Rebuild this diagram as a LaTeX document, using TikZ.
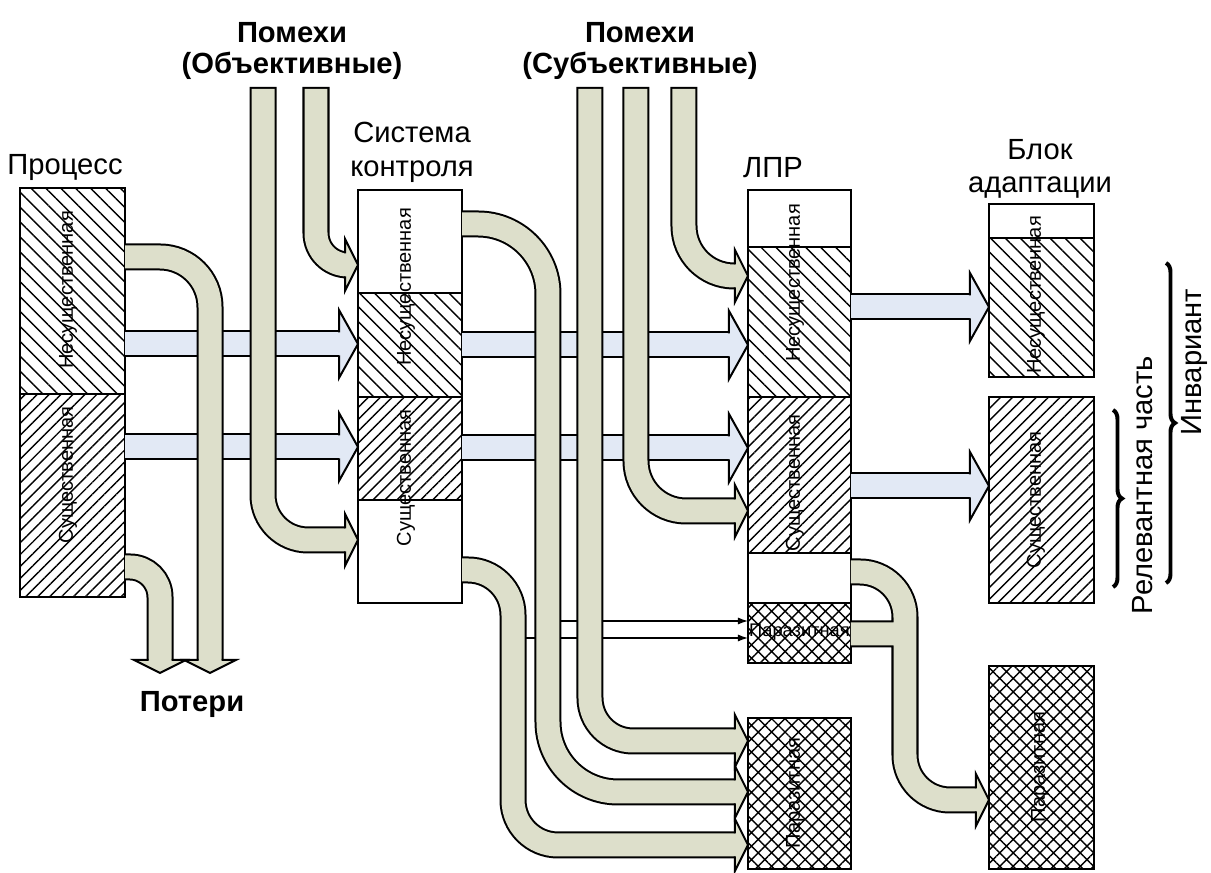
\documentclass[tikz,border=0pt]{standalone}
\usepackage{fontspec}
\setmainfont{Liberation Sans}
\usetikzlibrary{patterns.meta,decorations.pathreplacing,arrows.meta}

\definecolor{flowolive}{RGB}{221,223,203}
\definecolor{flowblue}{RGB}{226,233,245}

\begin{document}
\begin{tikzpicture}[
  sect/.style={draw, line width=0.02cm, inner sep=0pt, outer sep=0pt},
  whitesect/.style={sect, fill=white},
  nwsect/.style={sect, pattern={Lines[angle=-45,distance=3pt,line width=0.4pt]}},
  nesect/.style={sect, pattern={Lines[angle=45,distance=2.4pt,line width=0.4pt]}},
  xsect/.style={sect, pattern={Hatch[angle=45,distance=2.7pt,line width=0.4pt]}},
  vtext/.style={rotate=90, font=\fontsize{5.7}{7}\selectfont, inner sep=0pt},
  heading/.style={font=\fontsize{8.3}{9.6}\selectfont, align=center, inner sep=0pt},
  noise/.style={font=\bfseries\fontsize{8.3}{8.6}\selectfont, align=center, inner sep=0pt},
  oflow/.style={draw=flowolive, line width=0.23cm, rounded corners=0.45cm, shorten >=0.13cm,
    preaction={draw=black, line width=0.27cm, shorten <=0pt}},
  bflow/.style={draw=flowblue, line width=0.23cm, shorten >=0.19cm,
    preaction={draw=black, line width=0.27cm}},
  fromtop/.style={shorten <=0.02cm},
  signal/.style={line width=0.012cm, -{Latex[length=0.1cm,width=0.07cm]}},
  ohead/.pic={\filldraw[fill=flowolive, line width=0.02cm, line cap=rect]
    (-0.13,0.125) -- (-0.13,0.26) -- (0,0) -- (-0.13,-0.26) -- (-0.13,-0.125);},
  bhead/.pic={\filldraw[fill=flowblue, line width=0.02cm, line cap=rect]
    (-0.19,0.125) -- (-0.19,0.34) -- (0,0) -- (-0.19,-0.34) -- (-0.19,-0.125);}
]
\useasboundingbox (0,0) rectangle (12.11,-8.73);

% Процесс
\node[nwsect, minimum width=1.05cm, minimum height=2.06cm] (pN) at (0.725,-2.91) {};
\node[nesect, minimum width=1.05cm, minimum height=2.03cm] (pS) at (0.725,-4.955) {};
% Система контроля
\node[whitesect, minimum width=1.04cm, minimum height=1.03cm] (kT) at (4.10,-2.415) {};
\node[nwsect, minimum width=1.04cm, minimum height=1.04cm] (kN) at (4.10,-3.45) {};
\node[nesect, minimum width=1.04cm, minimum height=1.03cm] (kS) at (4.10,-4.485) {};
\node[whitesect, minimum width=1.04cm, minimum height=1.03cm] (kB) at (4.10,-5.515) {};
% ЛПР
\node[whitesect, minimum width=1.03cm, minimum height=0.57cm] (lT) at (7.995,-2.185) {};
\node[nwsect, minimum width=1.03cm, minimum height=1.50cm] (lN) at (7.995,-3.22) {};
\node[nesect, minimum width=1.03cm, minimum height=1.56cm] (lS) at (7.995,-4.75) {};
\node[whitesect, minimum width=1.03cm, minimum height=0.50cm] (lB) at (7.995,-5.78) {};
\node[xsect, minimum width=1.03cm, minimum height=0.60cm] (lP) at (7.995,-6.33) {};
\node[xsect, minimum width=1.03cm, minimum height=1.51cm] (lX) at (7.995,-7.935) {};
% Блок адаптации
\node[whitesect, minimum width=1.05cm, minimum height=0.34cm] (bT) at (10.415,-2.21) {};
\node[nwsect, minimum width=1.05cm, minimum height=1.39cm] (bN) at (10.415,-3.075) {};
\node[nesect, minimum width=1.05cm, minimum height=2.06cm] (bS) at (10.415,-5.00) {};
\node[xsect, minimum width=1.05cm, minimum height=2.03cm] (bX) at (10.415,-7.675) {};

% texts in the boxes
\node[vtext] (pNt) at (0.68,-2.90) {Несущественная};
\node[vtext] (pSt) at (0.68,-4.75) {Существенная};
\node[vtext] (kNt) at (4.06,-2.87) {Несущественная};
\node[vtext] (kSt) at (4.06,-4.78) {Существенная};
\node[vtext] (lNt) at (7.95,-2.83) {Несущественная};
\node[vtext] (lSt) at (7.95,-4.83) {Существенная};
\node[font=\fontsize{5.2}{6}\selectfont, inner sep=0pt] (lPt) at (7.995,-6.32) {Паразитная};
\node[vtext] (lXt) at (7.95,-7.93) {Паразитная};
\node[vtext] (bNt) at (10.36,-2.95) {Несущественная};
\node[vtext] (bSt) at (10.36,-5.00) {Существенная};
\node[vtext] (bXt) at (10.40,-7.67) {Паразитная};

% headings
\node[heading] (procL) at (0.65,-1.68) {Процесс};
\node[heading] (ctrlL) at (4.12,-1.52) {Система\\контроля};
\node[heading] (lprL) at (7.73,-1.68) {ЛПР};
\node[heading] (adaL) at (10.40,-1.69) {Блок\\адаптации};
\node[noise] (objL) at (2.92,-0.51) {Помехи\\(Объективные)};
\node[noise] (subL) at (6.40,-0.51) {Помехи\\(Субъективные)};
\node[noise] (lossL) at (1.92,-7.05) {Потери};
\node[heading, rotate=90] (relL) at (11.43,-4.85) {Релевантная часть};
\node[heading, rotate=90] (invL) at (11.94,-3.62) {Инвариант};

% braces
\draw[decorate, decoration={brace, amplitude=0.09cm}, line width=0.04cm] (11.13,-4.10) -- (11.13,-5.87);
\draw[decorate, decoration={brace, amplitude=0.09cm}, line width=0.04cm] (11.66,-2.63) -- (11.66,-5.83);

% blue flows
\foreach \a/\b/\y in {pN/kN/3.44, pS/kS/4.47, kN/lN/3.45, kS/lS/4.48, lN/bN/3.07, lS/bS/4.86}{
  \draw[bflow] (\a.east |- 0,-\y) -- (\b.west |- 0,-\y);
  \pic at (\b.west |- 0,-\y) {bhead};
}

% thin arrows into the parasitic part
\coordinate (t1) at (5.48,-6.21);
\coordinate (t2) at (5.13,-6.38);
\draw[signal] (t1) -- (lP.west |- t1);
\draw[signal] (t2) -- (lP.west |- t2);

% losses
\coordinate (loss1) at (2.10,-6.73);
\coordinate (loss2) at (1.60,-6.73);
\draw[oflow, rounded corners=0.3cm] (pS.east |- 0,-5.67) -| (loss2);
\pic[rotate=-90] at (loss2) {ohead};
\draw[oflow, rounded corners=0.5cm] (pN.east |- 0,-2.57) -| (loss1);
\pic[rotate=-90] at (loss1) {ohead};

% noise from the top
\foreach \x/\b/\y/\r in {2.63/kB/5.40/0.45, 3.16/kT/2.65/0.32, 6.84/lN/2.76/0.5, 6.36/lS/5.11/0.5, 5.90/lX/7.41/0.43}{
  \draw[oflow, fromtop, rounded corners=\r cm] (\x,-0.87) |- (\b.west |- 0,-\y);
  \pic at (\b.west |- 0,-\y) {ohead};
}

% from Система контроля
\draw[oflow, rounded corners=0.7cm] (kT.east |- 0,-2.24) -| (5.48,-7.92) -- (lX.west |- 0,-7.92);
\pic at (lX.west |- 0,-7.92) {ohead};
\draw[oflow] (kB.east |- 0,-5.70) -| (5.13,-8.45) -- (lX.west |- 0,-8.45);
\pic at (lX.west |- 0,-8.45) {ohead};

% from ЛПР
\draw[oflow] (lP.east |- 0,-6.34) -- (9.05,-6.34) (lB.east |- 0,-5.72) -| (9.05,-8.00) -- (bX.west |- 0,-8.00);
\pic at (bX.west |- 0,-8.00) {ohead};
\end{tikzpicture}
\end{document}
